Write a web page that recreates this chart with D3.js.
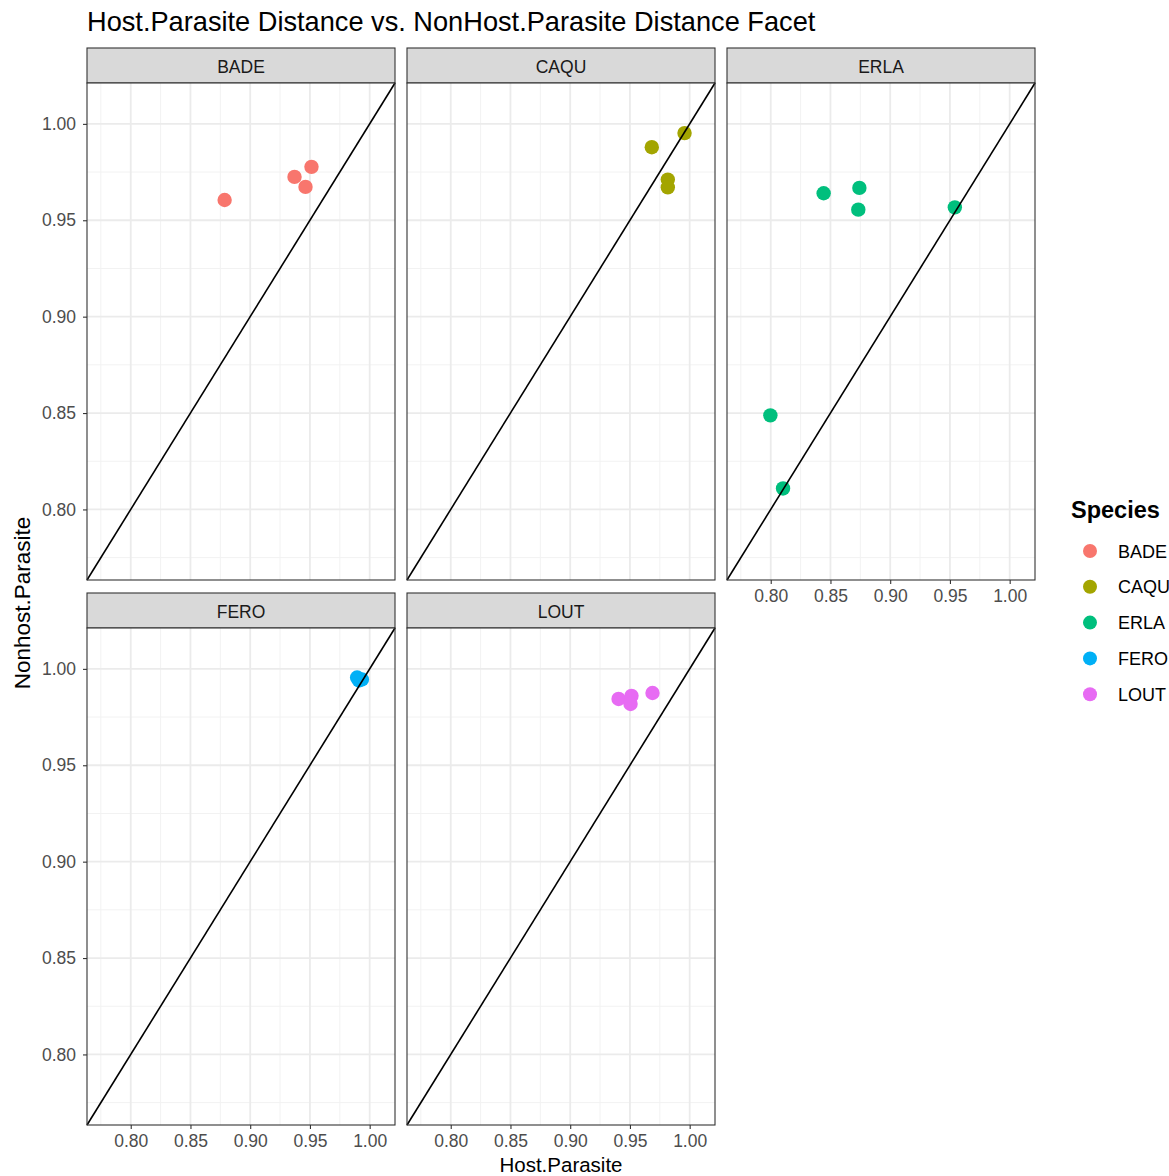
<!DOCTYPE html>
<html>
<head>
<meta charset="utf-8">
<script src="https://cdn.jsdelivr.net/npm/d3@7"></script>
<style>
  html, body { margin: 0; padding: 0; background: #fff; }
  text { font-family: "Liberation Sans", Arial, sans-serif; }
</style>
</head>
<body>
<svg id="chart" width="1169" height="1176"></svg>
<script>
const title = "Host.Parasite Distance vs. NonHost.Parasite Distance Facet";
const xLabel = "Host.Parasite";
const yLabel = "Nonhost.Parasite";
const legendTitle = "Species";
const species = ["BADE", "CAQU", "ERLA", "FERO", "LOUT"];
const speciesColors = ["#F8766D", "#A3A500", "#00BF7D", "#00B0F6", "#E76BF3"];

const pointSpecies = [
  "BADE", "BADE", "BADE", "BADE",
  "CAQU", "CAQU", "CAQU", "CAQU",
  "ERLA", "ERLA", "ERLA", "ERLA", "ERLA", "ERLA",
  "FERO", "FERO", "FERO",
  "LOUT", "LOUT", "LOUT", "LOUT"
];
const hostParasite = [
  0.8786, 0.9371, 0.9513, 0.9463,
  0.9683, 0.9957, 0.9817, 0.9817,
  0.8443, 0.8742, 0.8733, 0.9541, 0.7997, 0.8103,
  0.9895, 0.9935, 0.9910,
  0.9405, 0.9513, 0.9505, 0.9689
];
const nonhostParasite = [
  0.9605, 0.9725, 0.9777, 0.9673,
  0.9879, 0.9952, 0.9711, 0.9671,
  0.9640, 0.9668, 0.9555, 0.9567, 0.8488, 0.8109,
  0.9955, 0.9945, 0.9940,
  0.9844, 0.9860, 0.9818, 0.9875
];
const axisDomain = [0.7634, 1.0212];
const tickValues = [0.80, 0.85, 0.90, 0.95, 1.00];
const minorValues = [0.775, 0.825, 0.875, 0.925, 0.975];

const svg = d3.select("#chart");
const panelW = 308, panelH = 497, stripH = 35, gapX = 12, gapY = 13;
const left0 = 87, top0 = 48;

svg.append("text").attr("x", 87).attr("y", 31)
  .attr("font-size", 27.2).attr("fill", "#000").text(title);

const x = d3.scaleLinear().domain(axisDomain).range([0, panelW]);
const y = d3.scaleLinear().domain(axisDomain).range([panelH, 0]);
const color = d3.scaleOrdinal().domain(species).range(speciesColors);

const data = hostParasite.map((hp, i) => ({ sp: pointSpecies[i], hp, np: nonhostParasite[i] }));

species.forEach((sp, idx) => {
  const col = idx % 3, row = Math.floor(idx / 3);
  const px = left0 + col * (panelW + gapX);
  const py = top0 + row * (stripH + panelH + gapY);
  const g = svg.append("g").attr("transform", `translate(${px},${py})`);

  // strip
  g.append("rect").attr("x", 0).attr("y", 0).attr("width", panelW).attr("height", stripH)
    .attr("fill", "#D9D9D9").attr("stroke", "#333333").attr("stroke-width", 1.1);
  g.append("text").attr("x", panelW / 2).attr("y", stripH / 2 + 7)
    .attr("text-anchor", "middle").attr("font-size", 17.5).attr("fill", "#1A1A1A").text(sp);

  const p = g.append("g").attr("transform", `translate(0,${stripH})`);
  p.append("rect").attr("width", panelW).attr("height", panelH).attr("fill", "#fff");

  // grid
  p.selectAll(".vminor").data(minorValues).join("line")
    .attr("x1", d => x(d)).attr("x2", d => x(d)).attr("y1", 0).attr("y2", panelH)
    .attr("stroke", "#F2F2F2").attr("stroke-width", 1);
  p.selectAll(".hminor").data(minorValues).join("line")
    .attr("y1", d => y(d)).attr("y2", d => y(d)).attr("x1", 0).attr("x2", panelW)
    .attr("stroke", "#F2F2F2").attr("stroke-width", 1);
  p.selectAll(".vmajor").data(tickValues).join("line")
    .attr("x1", d => x(d)).attr("x2", d => x(d)).attr("y1", 0).attr("y2", panelH)
    .attr("stroke", "#EBEBEB").attr("stroke-width", 1.8);
  p.selectAll(".hmajor").data(tickValues).join("line")
    .attr("y1", d => y(d)).attr("y2", d => y(d)).attr("x1", 0).attr("x2", panelW)
    .attr("stroke", "#EBEBEB").attr("stroke-width", 1.8);

  // points
  p.selectAll("circle").data(data.filter(d => d.sp === sp)).join("circle")
    .attr("cx", d => x(d.hp)).attr("cy", d => y(d.np)).attr("r", 7.2)
    .attr("fill", d => color(d.sp));

  // identity line
  p.append("line")
    .attr("x1", x(axisDomain[0])).attr("y1", y(axisDomain[0]))
    .attr("x2", x(axisDomain[1])).attr("y2", y(axisDomain[1]))
    .attr("stroke", "#000").attr("stroke-width", 1.6);

  p.append("rect").attr("width", panelW).attr("height", panelH)
    .attr("fill", "none").attr("stroke", "#333333").attr("stroke-width", 1.1);

  // axes
  const showLeft = col === 0;
  const showBottom = row === 1 || idx === 2;
  if (showLeft) {
    const ax = p.append("g").call(d3.axisLeft(y).tickValues(tickValues).tickSize(4)
      .tickFormat(d3.format(".2f")));
    ax.select(".domain").remove();
    ax.selectAll("line").attr("stroke", "#333333").attr("stroke-width", 1.1);
    ax.selectAll("text").attr("font-size", 17.5).attr("fill", "#4D4D4D")
      .attr("font-family", "Liberation Sans, Arial, sans-serif").attr("x", -11);
  }
  if (showBottom) {
    const ax = p.append("g").attr("transform", `translate(0,${panelH})`)
      .call(d3.axisBottom(x).tickValues(tickValues).tickSize(4).tickFormat(d3.format(".2f")));
    ax.select(".domain").remove();
    ax.selectAll("line").attr("stroke", "#333333").attr("stroke-width", 1.1);
    ax.selectAll("text").attr("font-size", 17.5).attr("fill", "#4D4D4D")
      .attr("font-family", "Liberation Sans, Arial, sans-serif").attr("y", 10);
  }
});

// axis titles
svg.append("text").attr("x", left0 + (3 * panelW + 2 * gapX) / 2).attr("y", 1171.5)
  .attr("text-anchor", "middle").attr("font-size", 20.5).attr("fill", "#000").text(xLabel);
svg.append("text")
  .attr("transform", `translate(30,603) rotate(-90)`)
  .attr("text-anchor", "middle").attr("font-size", 22.5).attr("fill", "#000").text(yLabel);

// legend
const lg = svg.append("g");
lg.append("text").attr("x", 1071).attr("y", 518).attr("font-size", 23.5)
  .attr("font-weight", "bold").attr("fill", "#000").text(legendTitle);
species.forEach((sp, i) => {
  const cy = 551 + i * 35.8;
  lg.append("circle").attr("cx", 1090).attr("cy", cy).attr("r", 7).attr("fill", color(sp));
  lg.append("text").attr("x", 1118).attr("y", cy + 6.5).attr("font-size", 18)
    .attr("fill", "#000").text(sp);
});
</script>
</body>
</html>
